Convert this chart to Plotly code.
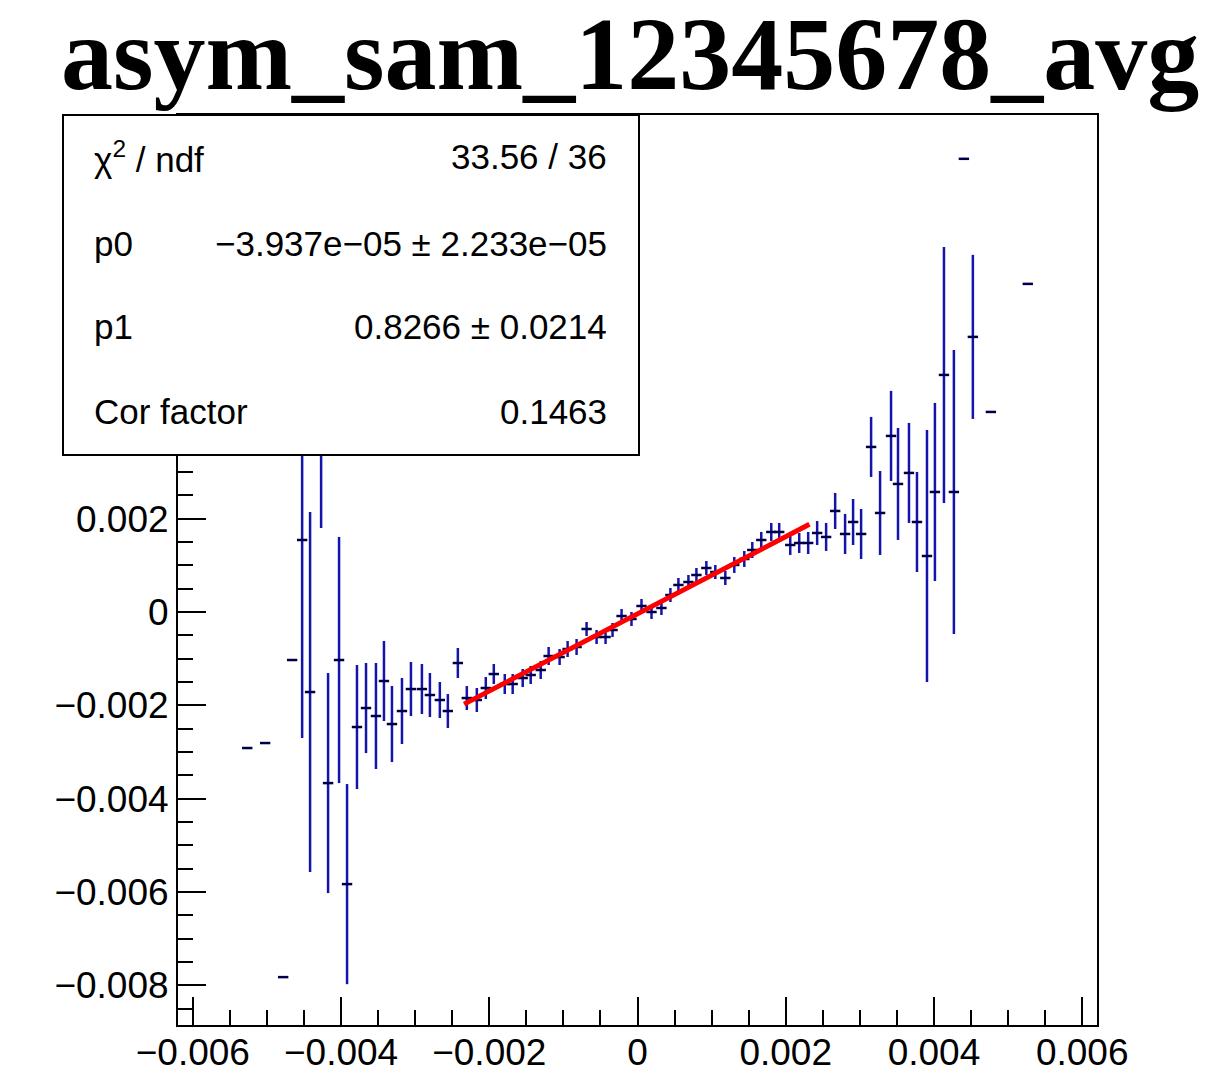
import plotly.graph_objects as go

# ---- data ----
x_vals = [-0.005266, -0.005024, -0.004781, -0.004660, -0.004525, -0.004418, -0.004269, -0.004175,
          -0.004027, -0.003919, -0.003785, -0.003663, -0.003529, -0.003421, -0.003313, -0.003178,
          -0.003057, -0.002909, -0.002801, -0.002667, -0.002559, -0.002424, -0.002303, -0.002168,
          -0.002047, -0.001939, -0.001791, -0.001684, -0.001549, -0.001441, -0.001306, -0.001199,
          -0.001051, -0.000943, -0.000822, -0.000687, -0.000552, -0.000431, -0.000337, -0.000215,
          -0.000081, 0.000054, 0.000189, 0.000323, 0.000444, 0.000552, 0.000687, 0.000795,
          0.000929, 0.001050, 0.001185, 0.001306, 0.001441, 0.001549, 0.001670, 0.001805,
          0.001912, 0.002061, 0.002182, 0.002303, 0.002424, 0.002545, 0.002667, 0.002801,
          0.002909, 0.003017, 0.003152, 0.003273, 0.003421, 0.003515, 0.003663, 0.003771,
          0.003906, 0.004013, 0.004135, 0.004269, 0.004404, 0.004525, 0.004768, 0.005266]
y_vals = [-0.002915, -0.002808, -0.007824, -0.001029, 0.001543, -0.001715, 0.004545, -0.003666,
          -0.001029, -0.005831, -0.002465, -0.002058, -0.002229, -0.001479, -0.002401, -0.002122,
          -0.001651, -0.001651, -0.001779, -0.001886, -0.002122, -0.001093, -0.001844, -0.001886,
          -0.001629, -0.001329, -0.001543, -0.001543, -0.001415, -0.001350, -0.001243, -0.000943,
          -0.000965, -0.000793, -0.000750, -0.000364, -0.000536, -0.000536, -0.000386, -0.000086,
          -0.000150, 0.000129, 0.000000, 0.000086, 0.000364, 0.000579, 0.000643, 0.000793,
          0.000943, 0.000857, 0.000729, 0.001008, 0.001136, 0.001329, 0.001543, 0.001715,
          0.001715, 0.001436, 0.001479, 0.001479, 0.001693, 0.001608, 0.002165, 0.001672,
          0.001929, 0.001672, 0.003537, 0.002122, 0.003773, 0.002744, 0.002980, 0.001929,
          0.001200, 0.002572, 0.005080, 0.002572, 0.009711, 0.005895, 0.004287, 0.007031]
y_errs = [0, 0, 0, 0, 0.004244, 0.003858, 0.002744, 0.002358,
          0.002637, 0.002144, 0.001329, 0.000965, 0.001136, 0.000857, 0.000815, 0.000707,
          0.000579, 0.000536, 0.000472, 0.000386, 0.000364, 0.000322, 0.000257, 0.000257,
          0.000236, 0.000214, 0.000214, 0.000214, 0.000193, 0.000193, 0.000193, 0.000193,
          0.000171, 0.000171, 0.000171, 0.000150, 0.000150, 0.000150, 0.000150, 0.000150,
          0.000150, 0.000150, 0.000150, 0.000150, 0.000150, 0.000150, 0.000150, 0.000150,
          0.000150, 0.000150, 0.000150, 0.000171, 0.000171, 0.000171, 0.000171, 0.000193,
          0.000193, 0.000214, 0.000214, 0.000236, 0.000257, 0.000300, 0.000386, 0.000429,
          0.000493, 0.000536, 0.000643, 0.000900, 0.000965, 0.001200, 0.001072, 0.001072,
          0.002701, 0.001908, 0.002744, 0.003044, 0.000000, 0.001758, 0.000000, 0.000000]
x_err = 0.00007

# fit result shown in the stats box
chi2_text = "33.56 / 36"
p0, p0_err = -3.937e-05, 2.233e-05
p1, p1_err = 0.8266, 0.0214
cor_factor = 0.1463
fit_range = [-0.00234, 0.00232]

title_text = "asym_sam_12345678_avg"
x_tick_vals = [-0.006, -0.004, -0.002, 0, 0.002, 0.004, 0.006]
x_tick_text = ["\u22120.006", "\u22120.004", "\u22120.002", "0", "0.002", "0.004", "0.006"]
y_tick_vals = [-0.008, -0.006, -0.004, -0.002, 0, 0.002, 0.004, 0.006, 0.008, 0.010]
y_tick_text = ["\u22120.008", "\u22120.006", "\u22120.004", "\u22120.002", "0", "0.002",
               "0.004", "0.006", "0.008", "0.01"]

# ---- figure ----
OFF = 8                      # page body margin of the browser
W, H = 1225 - OFF, 1088 - OFF
L, R, T, B = 178 - OFF, 1097 - OFF, 115 - OFF, 1025 - OFF   # plot frame in pixels
pw, ph = R - L, B - T

def px(xp):
    return (xp - OFF - L) / pw

def py(yp):
    return (B - (yp - OFF)) / ph

fig = go.Figure()
fig.add_trace(go.Scatter(
    x=x_vals, y=y_vals, mode="markers",
    marker=dict(size=2, color="#00004a"),
    error_y=dict(type="data", array=y_errs, visible=True, color="#1414aa", thickness=2.5, width=0),
    error_x=dict(type="constant", value=x_err, visible=True, color="#00004a", thickness=2.5, width=0),
    hoverinfo="skip", showlegend=False))

fit_y = [p0 + p1 * v for v in fit_range]
fig.add_trace(go.Scatter(x=fit_range, y=fit_y, mode="lines",
                         line=dict(color="#ff0000", width=5), showlegend=False, hoverinfo="skip"))

axis_common = dict(showline=True, linecolor="black", linewidth=2, mirror=True,
                   ticks="inside", ticklen=28, tickwidth=2, tickcolor="black",
                   showgrid=False, zeroline=False,
                   tickfont=dict(family="Liberation Sans, Arial, sans-serif", size=37, color="black"),
                   minor=dict(ticks="inside", ticklen=15, tickwidth=2, tickcolor="black",
                              tick0=0, dtick=0.0005, showgrid=False))

fig.update_xaxes(range=[-0.0062, 0.0062], tickmode="array", tickvals=x_tick_vals,
                 ticktext=x_tick_text, ticklabelstandoff=-6, **axis_common)
fig.update_yaxes(range=[-0.00885, 0.01065], tickmode="array", tickvals=y_tick_vals,
                 ticktext=y_tick_text, **axis_common)

# stats box
bx0, bx1, by0, by1 = 63, 639, 115, 455
fig.add_shape(type="rect", xref="paper", yref="paper",
              x0=px(bx0), x1=px(bx1), y0=py(by1), y1=py(by0),
              fillcolor="white", line=dict(color="black", width=2), layer="above")

stat_font = dict(family="Liberation Sans, Arial, sans-serif", size=35, color="black")
rows = [
    ("\u03c7<sup>2</sup> / ndf", chi2_text),
    ("p0", "\u2212%.3fe\u221205 \u00b1 %.3fe\u221205" % (abs(p0) * 1e5, p0_err * 1e5)),
    ("p1", "%.4f \u00b1 %.4f" % (p1, p1_err)),
    ("Cor factor", "%.4f" % cor_factor),
]
row_y = [157, 243, 327, 412]
for (lab, val), yy in zip(rows, row_y):
    fig.add_annotation(x=px(92), y=py(yy), xref="paper", yref="paper", text=lab,
                       showarrow=False, xanchor="left", yanchor="middle", font=stat_font)
    fig.add_annotation(x=px(609), y=py(yy), xref="paper", yref="paper", text=val,
                       showarrow=False, xanchor="right", yanchor="middle", font=stat_font)

fig.add_annotation(x=px(629.5), y=py(54), xref="paper", yref="paper", text="<b>%s</b>" % title_text,
                   showarrow=False, xanchor="center", yanchor="middle",
                   font=dict(family="Liberation Serif, Times New Roman, serif", size=104, color="black"))

fig.update_layout(width=W, height=H, paper_bgcolor="white", plot_bgcolor="white",
                  margin=dict(l=L, r=W - R, t=T, b=H - B, autoexpand=False),
                  showlegend=False)

fig.write_html("out.html")
